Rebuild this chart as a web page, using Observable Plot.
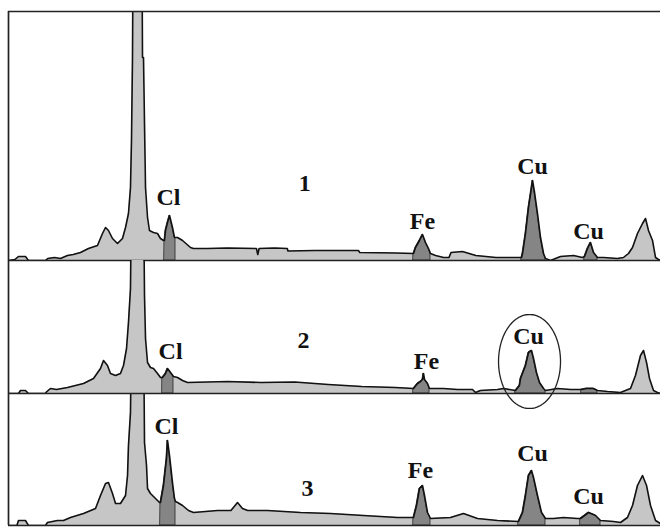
<!DOCTYPE html>
<html>
<head>
<meta charset="utf-8">
<script src="https://cdn.jsdelivr.net/npm/d3@7"></script>
<script src="https://cdn.jsdelivr.net/npm/@observablehq/plot@0.6"></script>
<style>
  html, body { margin: 0; padding: 0; background: #fff; }
  #chart { position: relative; width: 660px; height: 529px; }
  #chart svg { position: absolute; left: 0; }
</style>
</head>
<body>
<div id="chart"></div>
<script>
// EDS spectra of three sample spots: [energy keV, counts]
const spectrum1 = [
  [0.235,0],[0.33,4],[0.384,16],[0.488,16],[0.533,0],[0.786,0],[0.82,8],[0.92,12],[1.01,8],[1.114,20],
  [1.20,24],[1.308,32],[1.427,48],[1.561,60],[1.636,108],[1.681,132],[1.725,120],[1.785,88],[1.859,68],
  [1.934,88],[1.979,132],[2.023,188],[2.053,292],[2.068,480],[2.083,812],[2.098,1600],[2.217,1600],
  [2.232,812],[2.247,812],[2.262,548],[2.277,292],[2.307,172],[2.336,120],[2.396,112],[2.456,108],
  [2.50,88],[2.545,80],[2.560,80],[2.575,120],[2.605,152],[2.635,180],[2.679,132],[2.709,92],[2.724,92],
  [2.754,92],[2.829,80],[2.947,52],[2.992,48],[3.2,48],[3.5,50],[3.93,48],[3.95,24],[3.97,48],[4.2,50],
  [4.39,48],[4.40,38],[4.8,40],[5.03,40],[5.45,40],[5.47,32],[6.0,30],[6.271,28],[6.301,52],[6.36,80],
  [6.375,88],[6.405,104],[6.45,72],[6.494,48],[6.524,28],[6.6,20],[6.72,12],[6.80,12],[6.83,32],[7.0,36],
  [7.2,20],[7.5,12],[7.881,12],[7.896,28],[7.94,108],[7.985,212],[8.03,292],[8.045,320],[8.075,272],
  [8.119,188],[8.164,92],[8.209,28],[8.238,8],[8.313,0],[8.462,16],[8.655,20],[8.79,12],[8.82,16],
  [8.864,48],[8.909,72],[8.954,32],[9.013,12],[9.103,12],[9.311,8],[9.401,12],[9.475,28],[9.535,52],
  [9.609,108],[9.684,148],[9.729,168],[9.773,120],[9.833,80],[9.878,12],[9.922,4],[9.952,0]
];
const spectrum2 = [
  [0.235,0],[0.384,0],[0.414,12],[0.488,12],[0.533,0],[0.786,0],[0.80,6],[0.861,20],[0.95,16],[1.114,24],
  [1.353,40],[1.502,60],[1.606,100],[1.651,132],[1.71,112],[1.755,80],[1.83,72],[1.904,80],[1.949,112],
  [1.994,180],[2.023,284],[2.053,420],[2.068,800],[2.247,800],[2.262,392],[2.277,220],[2.307,124],
  [2.351,104],[2.396,100],[2.456,80],[2.50,64],[2.53,64],[2.575,80],[2.605,100],[2.65,84],[2.694,68],
  [2.754,64],[2.829,52],[2.903,44],[3.5,48],[4.0,44],[4.5,46],[5.0,36],[5.5,28],[6.0,24],[6.271,20],
  [6.331,40],[6.375,48],[6.405,56],[6.42,80],[6.435,56],[6.48,40],[6.509,20],[6.718,20],[6.927,16],
  [7.15,16],[7.195,4],[7.269,12],[7.523,16],[7.612,20],[7.791,12],[7.85,32],[7.866,60],[7.94,112],
  [7.985,164],[8.03,172],[8.06,140],[8.104,84],[8.149,44],[8.209,20],[8.238,12],[8.417,20],[8.611,16],
  [8.775,16],[8.85,20],[8.95,20],[9.013,12],[9.162,8],[9.356,4],[9.505,20],[9.579,72],[9.654,152],
  [9.699,172],[9.744,124],[9.788,60],[9.848,12],[9.907,4],[9.952,0]
];
const spectrum3 = [
  [0.235,0],[0.36,0],[0.384,20],[0.488,20],[0.533,0],[0.786,0],[0.816,12],[0.965,20],[1.055,20],[1.159,32],
  [1.353,48],[1.532,68],[1.606,120],[1.681,168],[1.725,172],[1.785,128],[1.83,88],[1.904,88],[1.979,120],
  [2.009,200],[2.023,320],[2.053,452],[2.068,800],[2.247,800],[2.262,332],[2.292,240],[2.307,148],
  [2.351,128],[2.426,108],[2.486,92],[2.50,92],[2.545,160],[2.59,268],[2.605,340],[2.635,280],[2.679,172],
  [2.709,108],[2.724,96],[2.754,92],[2.829,80],[2.918,60],[2.992,52],[3.35,60],[3.55,60],[3.648,92],
  [3.722,68],[3.8,60],[4.095,60],[4.587,52],[5.034,48],[5.526,40],[6.033,32],[6.271,32],[6.316,80],
  [6.36,148],[6.405,160],[6.435,120],[6.48,52],[6.524,28],[6.822,32],[7.016,48],[7.225,28],[7.523,20],
  [7.836,16],[7.896,52],[7.94,120],[7.985,200],[8.03,220],[8.06,192],[8.119,120],[8.179,52],[8.238,28],
  [8.357,28],[8.506,32],[8.715,28],[8.76,28],[8.82,40],[8.879,52],[8.95,44],[8.984,40],[9.058,20],
  [9.252,16],[9.356,12],[9.46,32],[9.535,80],[9.609,160],[9.684,200],[9.744,160],[9.803,80],[9.878,20],
  [9.952,8]
];

// Integration windows (keV) for Cl Kα, Fe Kα, Cu Kα, Cu Kβ
const windows1 = [[2.560,2.724],[6.271,6.524],[7.881,8.238],[8.82,9.013]];
const windows2 = [[2.530,2.694],[6.271,6.509],[7.791,8.238],[8.775,9.013]];
const windows3 = [[2.500,2.724],[6.271,6.524],[7.836,8.238],[8.76,9.058]];

// Peak labels: [text, energy keV, counts]
const labels1 = [["Cl",2.62,224],["1",4.65,280],["Fe",6.405,128],["Cu",8.045,348],["Cu",8.879,88]];
const labels2 = [["Cl",2.65,140],["2",4.63,184],["Fe",6.465,100],["Cu",7.985,200]];
const labels3 = [["Cl",2.59,368],["3",4.69,120],["Fe",6.375,192],["Cu",8.045,260],["Cu",8.879,88]];

// Circled Cu peak in spectrum 2: centre (keV, counts), radii (keV, counts)
const ring2 = {cx: 8.0, cy: 128, rx: 0.462, ry: 188};

const energyDomain = [0.235, 9.952];
const FONT = "'Liberation Serif', 'DejaVu Serif', 'Times New Roman', serif";

function valueAt(spec, e) {
  for (let i = 0; i < spec.length - 1; i++) {
    const [e0, c0] = spec[i], [e1, c1] = spec[i + 1];
    if (e >= e0 && e <= e1) return e1 === e0 ? c1 : c0 + (c1 - c0) * (e - e0) / (e1 - e0);
  }
  return 0;
}

function windowRows(spec, windows) {
  const rows = [];
  windows.forEach(([lo, hi], w) => {
    rows.push({e: lo, c: valueAt(spec, lo), w});
    spec.filter(d => d[0] > lo && d[0] < hi).forEach(d => rows.push({e: d[0], c: d[1], w}));
    rows.push({e: hi, c: valueAt(spec, hi), w});
  });
  return rows;
}

function panel({spec, windows, labels, top, height, marginTop, yMax, topRule, ring}) {
  const marks = [
    Plot.areaY(spec, {x: d => d[0], y: d => d[1], fill: "#c6c6c6", clip: true}),
    Plot.areaY(windowRows(spec, windows), {x: "e", y: "c", z: "w", fill: "#858585", stroke: "#333", strokeWidth: 0.9, clip: true}),
    Plot.line(spec, {x: d => d[0], y: d => d[1], stroke: "#111", strokeWidth: 1.6, clip: true}),
    Plot.ruleY([0], {stroke: "#222", strokeWidth: 1.7}),
    Plot.ruleX([energyDomain[0]], {y1: 0, y2: yMax, stroke: "#222", strokeWidth: 1.7}),
    Plot.text(labels, {x: d => d[1], y: d => d[2], text: d => d[0], lineAnchor: "bottom", textAnchor: "middle",
      fontFamily: FONT, fontWeight: "bold", fontSize: 24, fill: "#111"})
  ];
  if (topRule) marks.push(Plot.ruleY([yMax], {stroke: "#222", strokeWidth: 1.7}));
  if (ring) {
    const pts = d3.range(0, 361, 4).map(a => {
      const t = a * Math.PI / 180;
      return [ring.cx + ring.rx * Math.cos(t), ring.cy + ring.ry * Math.sin(t)];
    });
    marks.push(Plot.line(pts, {x: d => d[0], y: d => d[1], stroke: "#222", strokeWidth: 1.3}));
  }
  const svg = Plot.plot({
    width: 660,
    height,
    marginLeft: 8,
    marginRight: 0,
    marginTop,
    marginBottom: 2,
    x: {domain: energyDomain, axis: null},
    y: {domain: [0, yMax], axis: null},
    style: {background: "transparent", overflow: "visible"},
    marks
  });
  svg.style.top = top + "px";
  return svg;
}

const chart = document.getElementById("chart");
chart.append(
  panel({spec: spectrum1, windows: windows1, labels: labels1, top: 0, height: 262, marginTop: 11, yMax: 996, topRule: true}),
  panel({spec: spectrum3, windows: windows3, labels: labels3, top: 383, height: 144, marginTop: 10, yMax: 528}),
  panel({spec: spectrum2, windows: windows2, labels: labels2, top: 250, height: 145, marginTop: 10, yMax: 532, ring: ring2})
);
</script>
</body>
</html>
